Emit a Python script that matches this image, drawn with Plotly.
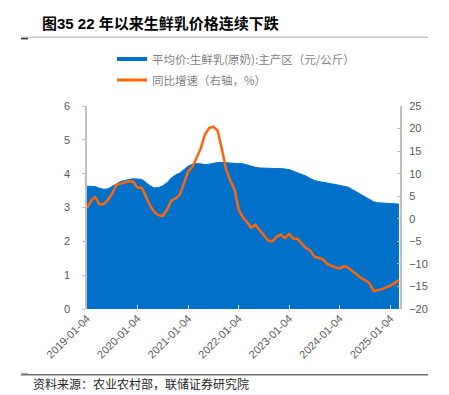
import plotly.graph_objects as go

# ---------------- data ----------------
dates = [
    "2019-01-04", "2019-02-04", "2019-03-04", "2019-04-04", "2019-05-04", "2019-06-04",
    "2019-07-04", "2019-08-04", "2019-09-04", "2019-10-04", "2019-11-04", "2019-12-04",
    "2020-01-04", "2020-02-04", "2020-03-04", "2020-04-04", "2020-05-04", "2020-06-04",
    "2020-07-04", "2020-08-04", "2020-09-04", "2020-10-04", "2020-11-04", "2020-12-04",
    "2021-01-04", "2021-02-04", "2021-03-04", "2021-04-04", "2021-05-04", "2021-06-04",
    "2021-07-04", "2021-08-04", "2021-09-04", "2021-10-04", "2021-11-04", "2021-12-04",
    "2022-01-04", "2022-02-04", "2022-03-04", "2022-04-04", "2022-05-04", "2022-06-04",
    "2022-07-04", "2022-08-04", "2022-09-04", "2022-10-04", "2022-11-04", "2022-12-04",
    "2023-01-04", "2023-02-04", "2023-03-04", "2023-04-04", "2023-05-04", "2023-06-04",
    "2023-07-04", "2023-08-04", "2023-09-04", "2023-10-04", "2023-11-04", "2023-12-04",
    "2024-01-04", "2024-02-04", "2024-03-04", "2024-04-04", "2024-05-04", "2024-06-04",
    "2024-07-04", "2024-08-04", "2024-09-04", "2024-10-04", "2024-11-04", "2024-12-04",
    "2025-01-04", "2025-02-04", "2025-03-07",
]

price = [  # 平均价:生鲜乳(原奶):主产区（元/公斤）
    3.63, 3.63, 3.62, 3.57, 3.54, 3.55, 3.62, 3.71, 3.77, 3.80, 3.83, 3.85,
    3.84, 3.83, 3.74, 3.64, 3.58, 3.59, 3.64, 3.73, 3.87, 3.96, 4.02, 4.12,
    4.22, 4.28, 4.30, 4.29, 4.27, 4.28, 4.31, 4.33, 4.33, 4.32, 4.32, 4.32,
    4.31, 4.29, 4.26, 4.22, 4.19, 4.17, 4.16, 4.15, 4.15, 4.15, 4.15, 4.14,
    4.12, 4.07, 4.03, 3.98, 3.93, 3.86, 3.80, 3.77, 3.74, 3.72, 3.70, 3.68,
    3.66, 3.64, 3.60, 3.53, 3.46, 3.38, 3.30, 3.22, 3.17, 3.14, 3.13, 3.12,
    3.11, 3.10, 3.10,
]

yoy = [  # 同比增速（右轴，%）
    2.4, 4.1, 4.8, 3.2, 3.2, 4.2, 5.5, 7.5, 7.8, 8.0, 8.3, 8.2,
    6.9, 6.9, 5.1, 2.9, 1.5, 0.8, 0.6, 2.0, 4.0, 4.5, 5.3, 7.8,
    10.5, 11.5, 13.3, 15.5, 18.6, 20.1, 20.4, 19.6, 15.5, 11.0, 8.5, 6.5,
    2.0, 0.3, -0.7, -2.0, -1.3, -2.5, -3.6, -4.8, -5.0, -4.0, -3.5, -4.3,
    -3.4, -4.4, -4.4, -5.5, -6.5, -7.0, -8.4, -8.7, -9.0, -10.0, -10.4, -10.8,
    -11.0, -10.5, -10.8, -11.6, -12.5, -13.1, -13.6, -14.2, -16.0, -15.8, -15.6, -15.2,
    -14.8, -14.2, -13.6,
]

x_ticks = ["2019-01-04", "2020-01-04", "2021-01-04", "2022-01-04",
           "2023-01-04", "2024-01-04", "2025-01-04"]
x_end = "2025-03-14"

name_price = "平均价:生鲜乳(原奶):主产区（元/公斤）"
name_yoy = "同比增速（右轴，%）"
title_text = "图35 22 年以来生鲜乳价格连续下跌"
source_text = "资料来源：农业农村部，联储证券研究院"

# ---------------- style ----------------
# The page body has an 8px default margin, so the figure is drawn 8px in from the corner.
OFF = 8
W, H = 449 - OFF, 395 - OFF
L, R, T, B = 87, 400, 106, 309.5          # plot area in reference (window) pixels
BLUE = "#0070C8"
ORANGE = "#FF660A"
FONT = "Liberation Sans, Noto Sans CJK SC, sans-serif"
CJK = "Noto Sans CJK SC, sans-serif"
TICKC = "#595959"
AXC = "#bfbfbf"


def px_x(px):
    return (px - L) / (R - L)


def px_y(py):
    return (B - py) / (B - T)


fig = go.Figure()
fig.add_trace(go.Scatter(x=dates, y=price, mode="lines", yaxis="y",
                         line=dict(color=BLUE, width=1), fill="tozeroy",
                         fillcolor=BLUE, showlegend=False, hoverinfo="skip"))
fig.add_trace(go.Scatter(x=dates, y=yoy, mode="lines", yaxis="y2",
                         line=dict(color=ORANGE, width=2.5), showlegend=False))
# legend entries (no visible marks)
fig.add_trace(go.Scatter(x=[dates[0]], y=[None], mode="lines", name=name_price,
                         line=dict(color=BLUE, width=4), legend="legend"))
fig.add_trace(go.Scatter(x=[dates[0]], y=[None], mode="lines", name=name_yoy, yaxis="y2",
                         line=dict(color=ORANGE, width=3), legend="legend2"))

leg_common = dict(xref="container", yref="container", xanchor="left", yanchor="middle",
                  bgcolor="rgba(0,0,0,0)", borderwidth=0,
                  font=dict(family=CJK, size=11.5, color="#7f7f7f"))

fig.update_layout(
    width=W, height=H,
    margin=dict(l=L - OFF, r=W - (R - OFF), t=T - OFF, b=H - (B - OFF), pad=0,
                autoexpand=False),
    paper_bgcolor="white", plot_bgcolor="white",
    font=dict(family=FONT, size=11, color=TICKC),
    title=dict(text="<b>" + title_text + "</b>", x=(42 - OFF) / W, xref="container",
               xanchor="left", y=1 - (24 - OFF) / H, yref="container", yanchor="middle",
               font=dict(family=FONT, size=15, color="#000000")),
    legend=dict(x=(112 - OFF) / W, y=1 - (59 - OFF) / H, **leg_common),
    legend2=dict(x=(112 - OFF) / W, y=1 - (80 - OFF) / H, **leg_common),
    xaxis=dict(type="date", range=[dates[0], x_end], autorange=False,
               tickvals=x_ticks, ticktext=x_ticks,
               tickangle=-45, ticks="inside", ticklen=4, tickcolor="#dcdcdc", tickwidth=1,
               showgrid=False, zeroline=False, showline=False, automargin=False,
               tickfont=dict(size=11, color=TICKC)),
    yaxis=dict(range=[0, 6], autorange=False, dtick=1, tick0=0, ticks="outside", ticklen=3,
               tickcolor=AXC, showline=True, linecolor=AXC, linewidth=1.5, showgrid=False,
               zeroline=False, automargin=False, ticklabelstandoff=10,
               tickfont=dict(size=11, color=TICKC)),
    yaxis2=dict(range=[-20, 25], autorange=False, dtick=5, tick0=0, overlaying="y",
                side="right", ticks="inside", ticklen=3, tickcolor=AXC, showline=True,
                linecolor=AXC, linewidth=2, showgrid=False, zeroline=False, automargin=False,
                ticklabelstandoff=5, tickfont=dict(size=11, color=TICKC)),
    showlegend=True,
)

# header / footer rules
fig.add_shape(type="line", xref="paper", yref="paper", x0=px_x(21), x1=px_x(428),
              y0=px_y(37), y1=px_y(37), line=dict(color="#a6a6a6", width=1))
fig.add_shape(type="line", xref="paper", yref="paper", x0=px_x(21), x1=px_x(28),
              y0=px_y(38.5), y1=px_y(38.5), line=dict(color="#404040", width=1.5))
fig.add_shape(type="line", xref="paper", yref="paper", x0=px_x(21), x1=px_x(428),
              y0=px_y(375.5), y1=px_y(375.5), line=dict(color="#262626", width=1))
fig.add_shape(type="line", xref="paper", yref="paper", x0=px_x(21), x1=px_x(28),
              y0=px_y(374), y1=px_y(374), line=dict(color="#a6a6a6", width=1))

fig.add_annotation(text=source_text, xref="paper", yref="paper", x=px_x(30.5), y=px_y(384),
                   xanchor="left", yanchor="middle", showarrow=False,
                   font=dict(family=CJK, size=12, color="#262626"))

fig.write_html("out.html")
